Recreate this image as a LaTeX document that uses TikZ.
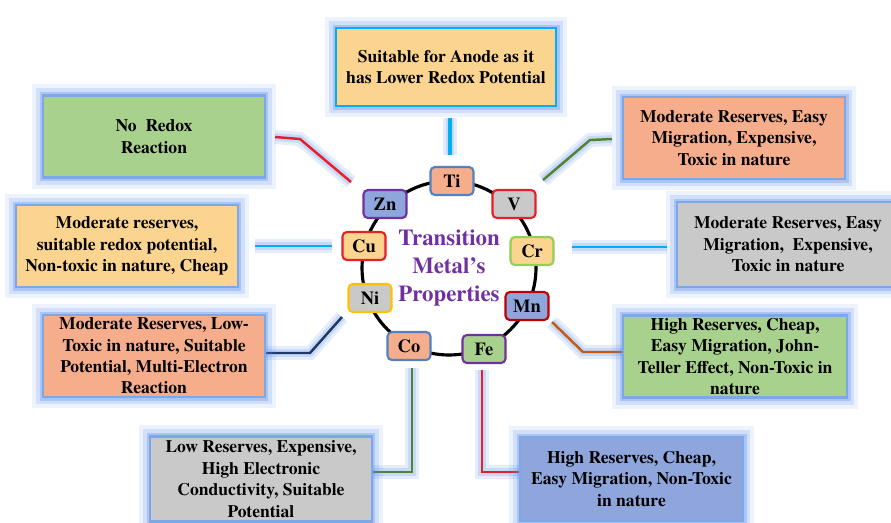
\documentclass[tikz,border=0pt]{standalone}
\usepackage{fontspec}
\IfFontExistsTF{texgyretermes-bold.otf}
  {\setmainfont{texgyretermes}[Extension=.otf,UprightFont=*-regular,BoldFont=*-bold]}
  {\setmainfont{Liberation Serif}}
\definecolor{lorange}{RGB}{251,212,143}
\definecolor{lgreen}{RGB}{169,209,142}
\definecolor{lsalmon}{RGB}{245,173,140}
\definecolor{lgray}{RGB}{201,201,201}
\definecolor{lblue}{RGB}{143,166,220}
\definecolor{edgeblue}{RGB}{125,168,232}
\definecolor{glowblue}{RGB}{80,135,235}
\definecolor{cyanline}{RGB}{0,176,240}
\definecolor{ringpurple}{RGB}{112,48,160}
\definecolor{steel}{RGB}{80,130,195}
\definecolor{redline}{RGB}{232,30,40}
\definecolor{darkred}{RGB}{192,0,0}
\definecolor{limeedge}{RGB}{146,208,80}
\definecolor{goldedge}{RGB}{255,192,0}
\definecolor{greenline}{RGB}{84,130,53}
\definecolor{brownline}{RGB}{197,90,17}
\definecolor{navyline}{RGB}{31,56,100}
\newcommand{\infofont}{\bfseries\fontsize{10}{12.2}\selectfont}
\newcommand{\metalfont}{\bfseries\fontsize{10.5}{12}\selectfont}
\newcommand{\ringtitlefont}{\bfseries\fontsize{13}{16}\selectfont}
\begin{document}
\begin{tikzpicture}[x=0.02cm,y=-0.02cm,
  infobox/.style={preaction={draw=glowblue,line width=13pt,opacity=.1},
    preaction={draw=glowblue,line width=8pt,opacity=.18},
    preaction={draw=glowblue,line width=4pt,opacity=.3},
    draw=edgeblue,line width=1.2pt,minimum width=4.44cm,minimum height=1.64cm,
    align=center,inner sep=0pt,font=\infofont},
  metal/.style={draw,line width=1.2pt,rounded corners=2.5pt,minimum width=0.86cm,
    minimum height=0.56cm,inner sep=0pt,font=\metalfont},
  link/.style={line width=1.4pt,preaction={draw=glowblue,line width=8pt,opacity=.15},
    preaction={draw=glowblue,line width=4.5pt,opacity=.2}}]
  \useasboundingbox (0,0) rectangle (891,522);
  \clip (0,0) rectangle (891,522);
  % ring of metals
  \coordinate (ring) at (449,268);
  \draw[line width=1.8pt] (ring) circle (1.74cm);
  % connector points
  \coordinate (ti-a) at (450,118);  \coordinate (ti-b) at (450,155);
  \coordinate (zn-a) at (275,137);  \coordinate (zn-b) at (300,139);  \coordinate (zn-c) at (351,182);
  \coordinate (cu-a) at (255,246);  \coordinate (cu-b) at (332,246);
  \coordinate (v-a) at (543,180);   \coordinate (v-b) at (590,140);   \coordinate (v-c) at (612,139);
  \coordinate (cr-a) at (572,247);  \coordinate (cr-b) at (667,247);
  \coordinate (mn-a) at (552,322);  \coordinate (mn-b) at (583,352);  \coordinate (mn-c) at (622,352);
  \coordinate (fe-a) at (482,370);  \coordinate (fe-b) at (482,472);  \coordinate (fe-c) at (520,472);
  \coordinate (co-a) at (412,368);  \coordinate (co-b) at (412,472);  \coordinate (co-c) at (373,472);
  \coordinate (ni-a) at (342,317);  \coordinate (ni-b) at (310,353);  \coordinate (ni-c) at (265,353);
  \draw[link,cyanline,line width=1.8pt] (ti-a) -- (ti-b);
  \draw[link,redline] (zn-a) -- (zn-b) -- (zn-c);
  \draw[link,cyanline] (cu-a) -- (cu-b);
  \draw[link,greenline] (v-a) -- (v-b) -- (v-c);
  \draw[link,cyanline] (cr-a) -- (cr-b);
  \draw[link,brownline] (mn-a) -- (mn-b) -- (mn-c);
  \draw[link,redline] (fe-a) -- (fe-b) -- (fe-c);
  \draw[link,greenline] (co-a) -- (co-b) -- (co-c);
  \draw[link,navyline] (ni-a) -- (ni-b) -- (ni-c);
  % property boxes
  \node[infobox,draw=cyanline,line width=1.6pt,fill=lorange,minimum width=4.4cm,minimum height=1.56cm]
    (anode) at (446,67) {Suitable for Anode as it\\has Lower Redox Potential};
  \node[infobox,fill=lgreen] (noredox) at (154,136.5) {No~ Redox\\Reaction};
  \node[infobox,fill=lorange] (cuprop) at (127,246) {Moderate reserves,\\suitable redox potential,\\Non-toxic in nature, Cheap};
  \node[infobox,fill=lsalmon] (vprop) at (734,138) {Moderate Reserves, Easy\\Migration, Expensive,\\Toxic in nature};
  \node[infobox,fill=lgray,minimum height=1.7cm] (crprop) at (788,244.5) {Moderate Reserves, Easy\\Migration,~ Expensive,\\Toxic in nature};
  \node[infobox,fill=lsalmon] (niprop) at (154,356) {Moderate Reserves, Low-\\Toxic in nature, Suitable\\Potential, Multi-Electron\\Reaction};
  \node[infobox,fill=lgray,minimum height=1.7cm] (coprop) at (261,479) {Low Reserves, Expensive,\\High Electronic\\Conductivity, Suitable\\Potential};
  \node[infobox,fill=lgreen,minimum width=4.48cm] (mnprop) at (735,356.5) {High Reserves, Cheap,\\Easy Migration, John-\\Teller Effect, Non-Toxic in\\nature};
  \node[infobox,fill=lblue,minimum width=4.46cm,minimum height=1.68cm] (feprop) at (631.5,479) {High Reserves, Cheap,\\Easy Migration, Non-Toxic\\in nature};
  % metals
  \node[metal,fill=lsalmon,draw=steel] (ti) at (452,181) {Ti};
  \node[metal,fill=lgray,draw=redline] (v) at (514,204) {V};
  \node[metal,fill=lorange,draw=limeedge] (cr) at (532,251) {Cr};
  \node[metal,fill=lblue,draw=darkred] (mn) at (527,306) {Mn};
  \node[metal,fill=lgreen,draw=ringpurple] (fe) at (484,349) {Fe};
  \node[metal,fill=lsalmon,draw=steel] (co) at (409,346) {Co};
  \node[metal,fill=lgray,draw=goldedge] (ni) at (370,298) {Ni};
  \node[metal,fill=lorange,draw=redline] (cu) at (364,246) {Cu};
  \node[metal,fill=lblue,draw=ringpurple] (zn) at (385,204) {Zn};
  \node[align=center,text=ringpurple,font=\ringtitlefont] (title) at (ring) {Transition\\Metal's\\Properties};
\end{tikzpicture}
\end{document}
